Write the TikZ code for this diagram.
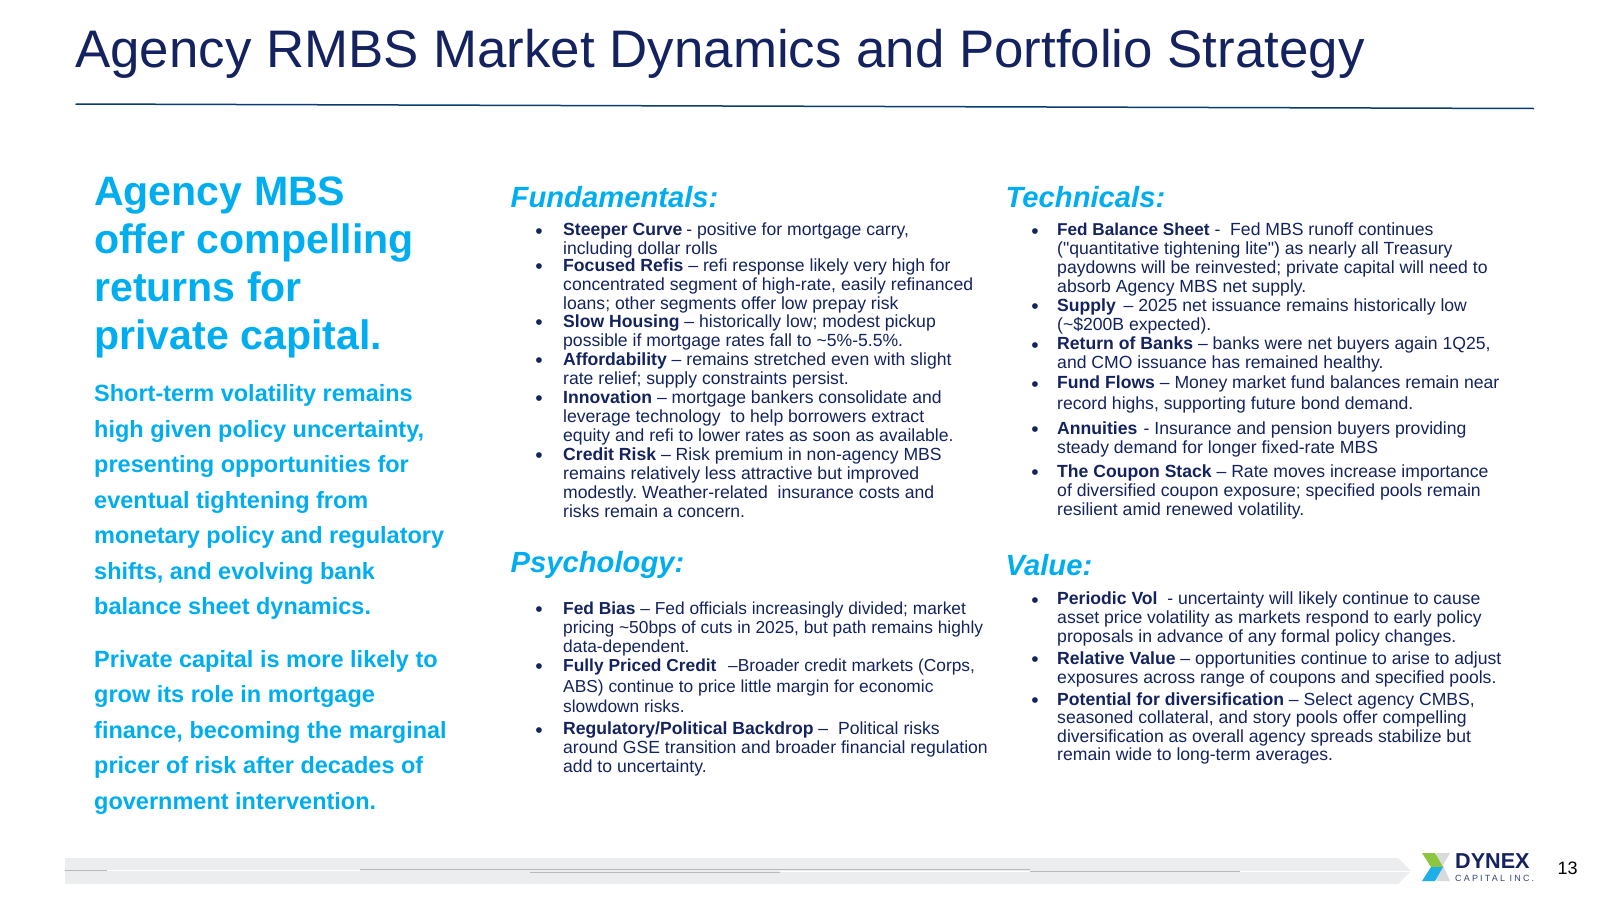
\documentclass[tikz,border=0pt]{standalone}
\usepackage{fontspec}
\setmainfont{Liberation Sans}[Ligatures=TeXOff]
\definecolor{navy}{HTML}{14235F}
\definecolor{cyanhead}{HTML}{00AEEF}
\definecolor{rulecol}{HTML}{0B3C6F}
\definecolor{bargrey}{HTML}{ECEDEF}
\definecolor{bargline}{HTML}{B9BABD}
\definecolor{logogreen}{HTML}{8CC63F}
\definecolor{logoblue}{HTML}{1EAEE8}
\definecolor{logogrey}{HTML}{D9DADB}
\tikzset{
    sidehead/.style={anchor=north west, inner sep=0pt, align=left, text=cyanhead,
        font=\fontsize{41.1}{47.8}\selectfont\bfseries},
    sidetext/.style={anchor=north west, inner sep=0pt, align=left, text=cyanhead,
        font=\fontsize{23.5}{35.5}\selectfont\bfseries},
    colhead/.style={anchor=north west, inner sep=0pt, text=cyanhead,
        font=\fontsize{29.2}{34}\selectfont\bfseries\itshape},
    itemtext/.style={anchor=north west, inner sep=0pt, align=left, text=navy,
        font=\fontsize{17.6}{18.9}\selectfont},
    looseitem/.style={itemtext, font=\fontsize{17.6}{20.4}\selectfont},
    smallitem/.style={itemtext, font=\fontsize{17.35}{18.9}\selectfont},
    itemdot/.style={anchor=center, inner sep=0pt, yshift=-3.5pt, text=navy, font=\fontsize{21}{24}\selectfont}
}
\begin{document}
\frenchspacing
\begin{tikzpicture}[x=1pt,y=-1pt]
        \useasboundingbox (0,0) rectangle (1600,900);

        % Title and rule
        \node[anchor=west, inner sep=0pt, text=navy, font=\fontsize{52.85}{60}\selectfont] (title) at (75,53.5)
            {Agency RMBS Market Dynamics and Portfolio Strategy};
        \coordinate (ruleL) at (75.5,104);
        \coordinate (ruleR) at (1534,108.5);
        \draw[rulecol, line width=1.5pt] (ruleL) -- (ruleR);

        % Left column
        \node[sidehead] (sideA) at (94,177) {Agency MBS\\offer compelling\\returns for\\private capital.};
        \node[sidetext] (sideB) at (94,384.5) {Short-term volatility remains\\high given policy uncertainty,\\presenting opportunities for\\eventual tightening from\\monetary policy and regulatory\\shifts, and evolving bank\\balance sheet dynamics.};
        \node[sidetext] (sideC) at (94,650) {Private capital is more likely to\\grow its role in mortgage\\finance, becoming the marginal\\pricer of risk after decades of\\government intervention.};

        % Fundamentals
        \node[colhead] (headF) at (510.5,186) {Fundamentals:};
        \foreach \y [count=\i] in {230,265.5,321.5,359,397,454}
            \node[itemdot] (dotF\i) at (539,\y) {•};
        \node[itemtext] (itemF1) at (563,222.6) {\textbf{Steeper Curve}\kern-1pt\ - positive for mortgage carry,\\including dollar rolls};
        \node[itemtext] (itemF2) at (563,259) {\textbf{Focused Refis} – refi response likely very high for\\concentrated segment of high-rate, easily refinanced\\loans; other segments offer low prepay risk};
        \node[itemtext] (itemF3) at (563,315) {\textbf{Slow Housing} – historically low; modest pickup\\possible if mortgage rates fall to \textasciitilde 5\%-5.5\%.};
        \node[itemtext] (itemF4) at (563,353) {\textbf{Affordability} – remains stretched even with slight\\rate relief; supply constraints persist.};
        \node[itemtext] (itemF5) at (563,390.5) {\textbf{Innovation} – mortgage bankers consolidate and\\leverage technology\ \ to help borrowers extract\\equity and refi to lower rates as soon as available.};
        \node[itemtext] (itemF6) at (563,447.5) {\textbf{Credit Risk} – Risk premium in non-agency MBS\\remains relatively less attractive but improved\\modestly. Weather-related\ \ insurance costs and\\risks remain a concern.};

        % Psychology
        \node[colhead] (headP) at (510.5,551) {Psychology:};
        \foreach \y [count=\i] in {608,665,729}
            \node[itemdot] (dotP\i) at (539,\y) {•};
        \node[smallitem] (itemP1) at (563,601.5) {\textbf{Fed Bias} – Fed officials increasingly divided; market\\pricing \textasciitilde 50bps of cuts in 2025, but path remains highly\\data-dependent.};
        \node[looseitem, font=\fontsize{17.35}{20.4}\selectfont] (itemP2) at (563,659) {\textbf{Fully Priced Credit}\kern2pt\ \ –Broader credit markets (Corps,\\ABS) continue to price little margin for economic\\slowdown risks.};
        \node[itemtext] (itemP3) at (563,722) {\textbf{Regulatory/Political Backdrop} –\ \ Political risks\\around GSE transition and broader financial regulation\\add to uncertainty.};

        % Technicals
        \node[colhead] (headT) at (1005.5,186) {Technicals:};
        \foreach \y [count=\i] in {230,305,344,383,428,471}
            \node[itemdot] (dotT\i) at (1035,\y) {•};
        \node[itemtext] (itemT1) at (1057,222.6) {{\fontsize{17.15}{18.9}\selectfont\textbf{Fed Balance Sheet}}\ -\ \ Fed MBS runoff continues\\("quantitative tightening lite") as nearly all Treasury\\paydowns will be reinvested; private capital will need to\\absorb Agency MBS net supply.};
        \node[itemtext] (itemT2) at (1057,298.5) {\textbf{Supply}\kern-2pt\ \ – 2025 net issuance remains historically low\\(\textasciitilde\$200B expected).};
        \node[itemtext] (itemT3) at (1057,337) {\textbf{Return of Banks} – banks were net buyers again 1Q25,\\and CMO issuance has remained healthy.};
        \node[looseitem] (itemT4) at (1057,376) {\textbf{Fund Flows} – Money market fund balances remain near\\record highs, supporting future bond demand.};
        \node[itemtext] (itemT5) at (1057,421.6) {\textbf{Annuities}\kern-3.5pt\ \ - Insurance and pension buyers providing\\steady demand for longer fixed-rate MBS};
        \node[itemtext] (itemT6) at (1057,464.4) {\textbf{The Coupon Stack} – Rate moves increase importance\\of diversified coupon exposure; specified pools remain\\resilient amid renewed volatility.};

        % Value
        \node[colhead] (headV) at (1005.5,554) {Value:};
        \foreach \y [count=\i] in {599,658,699}
            \node[itemdot] (dotV\i) at (1035,\y) {•};
        \node[itemtext] (itemV1) at (1057,592) {\textbf{Periodic Vol}\ \ - uncertainty will likely continue to cause\\asset price volatility as markets respond to early policy\\proposals in advance of any formal policy changes.};
        \node[itemtext] (itemV2) at (1057,651.5) {\textbf{Relative Value} – opportunities continue to arise to adjust\\exposures across range of coupons and specified pools.};
        \node[itemtext, font=\fontsize{17.6}{18.5}\selectfont] (itemV3) at (1057,692.5) {\textbf{Potential for diversification} – Select agency CMBS,\\seasoned collateral, and story pools offer compelling\\diversification as overall agency spreads stabilize but\\remain wide to long-term averages.};

        % Footer bar
        \fill[bargrey] (65,858) -- (1398,858) -- (1411,871) -- (1398,884) -- (65,884) -- cycle;
        \draw[white, line width=1pt] (107,870) -- (360,870);
        \draw[white, line width=1pt] (780,871) -- (1411,871);
        \draw[bargline, line width=0.8pt] (65,870.5) -- (107,870.5);
        \draw[bargline, line width=0.6pt] (360,869.5) -- (1030,869.5);
        \draw[bargline, line width=0.6pt] (530,872) -- (780,872);
        \draw[bargline, line width=0.8pt] (1030,871) -- (1240,871);

        % Logo
        \fill[logogrey] (1437,853) -- (1450,853) -- (1443,865) -- (1450,881) -- (1437,881) -- (1431,868) -- cycle;
        \fill[logogreen] (1422,853) -- (1435,853) -- (1443,867) -- (1431,867) -- cycle;
        \fill[logoblue] (1431,867) -- (1443,867) -- (1435,881) -- (1422,881) -- cycle;
        \node[anchor=base west, inner sep=0pt, text=navy, font=\fontsize{21.6}{24}\selectfont\bfseries] (logoA) at (1455,868) {DYNEX};
        \node[anchor=base west, inner sep=0pt, text=navy, font=\fontsize{9}{10}\selectfont, opacity=0.85] (logoB) at (1455,881)
            {\addfontfeature{LetterSpace=24}CAPITAL INC.};
        \node[anchor=center, inner sep=0pt, text=black, font=\fontsize{18}{20}\selectfont] (pagenum) at (1567.5,868) {13};
    \end{tikzpicture}
\end{document}
